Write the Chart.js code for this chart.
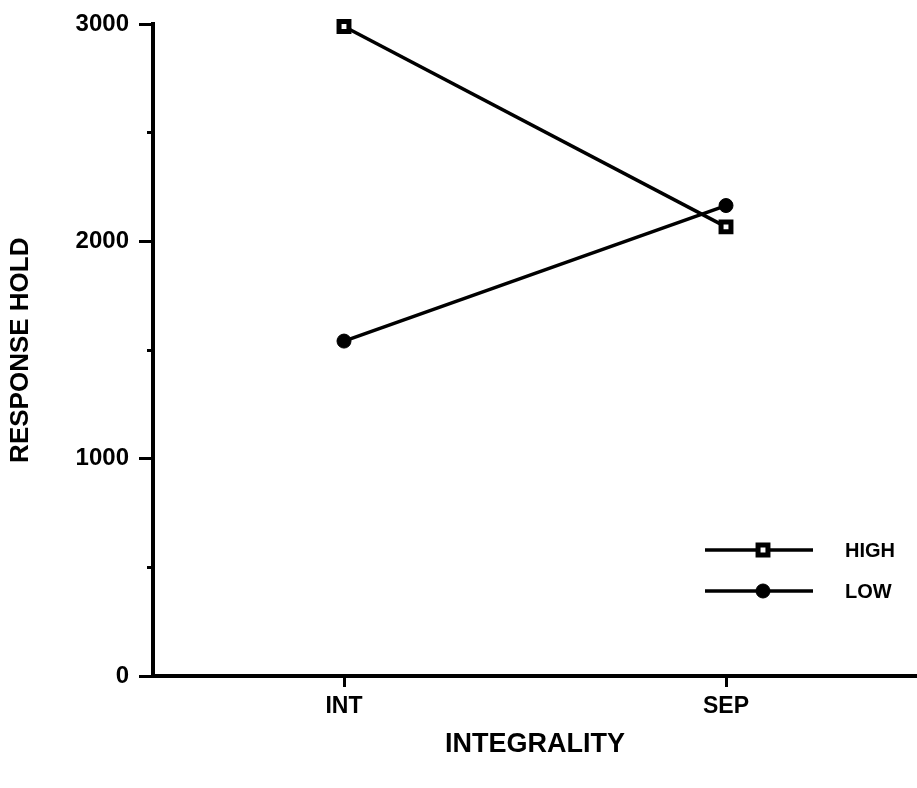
<!DOCTYPE html>
<html>
<head>
<meta charset="utf-8">
<script src="https://cdn.jsdelivr.net/npm/chart.js@4.4.0/dist/chart.umd.min.js"></script>
<style>
  html, body { margin: 0; padding: 0; background: #fff; overflow: hidden; }
  #wrap { width: 929px; height: 788px; position: relative; }
</style>
</head>
<body>
<div id="wrap"><canvas id="grafico"></canvas></div>
<script>
// datos
const categorias = ["INT", "SEP"];
const high = [2990, 2068];
const low = [1542, 2166];
const nombres = ["HIGH", "LOW"];
const yMin = 0, yMax = 3000, yPaso = 500;

const fuente = "'Liberation Sans', Arial, Helvetica, sans-serif";

// leyenda dibujada a mano (linea + marcador)
const leyenda = {
  id: "leyenda",
  afterDraw(chart) {
    const ctx = chart.ctx;
    const x0 = 705, x1 = 813, xm = 763, xt = 845;
    const filas = [550, 591];
    chart.data.datasets.forEach((ds, i) => {
      const y = filas[i];
      ctx.save();
      ctx.strokeStyle = "#000";
      ctx.lineWidth = 3.5;
      ctx.beginPath();
      ctx.moveTo(x0, y);
      ctx.lineTo(x1, y);
      ctx.stroke();
      ctx.fillStyle = ds.pointBackgroundColor;
      ctx.strokeStyle = "#000";
      ctx.lineWidth = ds.pointBorderWidth;
      Chart.helpers.drawPoint(ctx, {
        pointStyle: ds.pointStyle,
        radius: ds.pointRadius,
        rotation: 0,
        borderWidth: ds.pointBorderWidth
      }, xm, y);
      ctx.fillStyle = "#000";
      ctx.font = "bold 20px " + fuente;
      ctx.textBaseline = "middle";
      ctx.fillText(ds.label, xt, y + 1);
      ctx.restore();
    });
  }
};

new Chart(document.getElementById("grafico"), {
  type: "line",
  data: {
    labels: categorias,
    datasets: [
      {
        label: nombres[0],
        data: high,
        borderColor: "#000",
        borderWidth: 3.5,
        pointStyle: "rect",
        pointRadius: 7,
        pointBorderWidth: 5,
        pointBackgroundColor: "#fff",
        pointBorderColor: "#000",
        clip: false
      },
      {
        label: nombres[1],
        data: low,
        borderColor: "#000",
        borderWidth: 3.5,
        pointStyle: "circle",
        pointRadius: 7,
        pointBorderWidth: 1,
        pointBackgroundColor: "#000",
        pointBorderColor: "#000",
        clip: false
      }
    ]
  },
  options: {
    responsive: true,
    maintainAspectRatio: false,
    animation: false,
    layout: { padding: { top: 21, right: 0, left: 0, bottom: 0 } },
    plugins: {
      legend: { display: false },
      tooltip: { enabled: false }
    },
    scales: {
      x: {
        offset: true,
        afterFit: (s) => { s.height = 112; },
        border: { display: true, color: "#000", width: 4 },
        grid: {
          display: true,
          drawOnChartArea: false,
          offset: false,
          tickLength: 11,
          tickWidth: 3,
          tickColor: "#000"
        },
        ticks: {
          color: "#000",
          padding: 6,
          font: { family: fuente, size: 23, weight: "bold" }
        },
        title: {
          display: true,
          text: "INTEGRALITY",
          color: "#000",
          padding: { top: 0, bottom: 27 },
          font: { family: fuente, size: 27, weight: "bold" }
        }
      },
      y: {
        min: yMin,
        max: yMax,
        afterFit: (s) => { s.width = 153; },
        border: { display: true, color: "#000", width: 4 },
        grid: {
          display: true,
          drawOnChartArea: false,
          tickLength: 14,
          tickWidth: 3,
          tickColor: "#000",
          tickBorderDash: (c) => (c.tick && c.tick.value % 1000 === 0) ? [] : [0, 8, 6, 40]
        },
        ticks: {
          stepSize: yPaso,
          color: "#000",
          padding: 10,
          font: { family: fuente, size: 24, weight: "bold" },
          callback: (v) => (v % 1000 === 0 ? String(v) : "")
        },
        title: {
          display: true,
          text: "RESPONSE HOLD",
          color: "#000",
          padding: { top: 5, bottom: 0 },
          font: { family: fuente, size: 26, weight: "bold" }
        }
      }
    }
  },
  plugins: [leyenda]
});
</script>
</body>
</html>
